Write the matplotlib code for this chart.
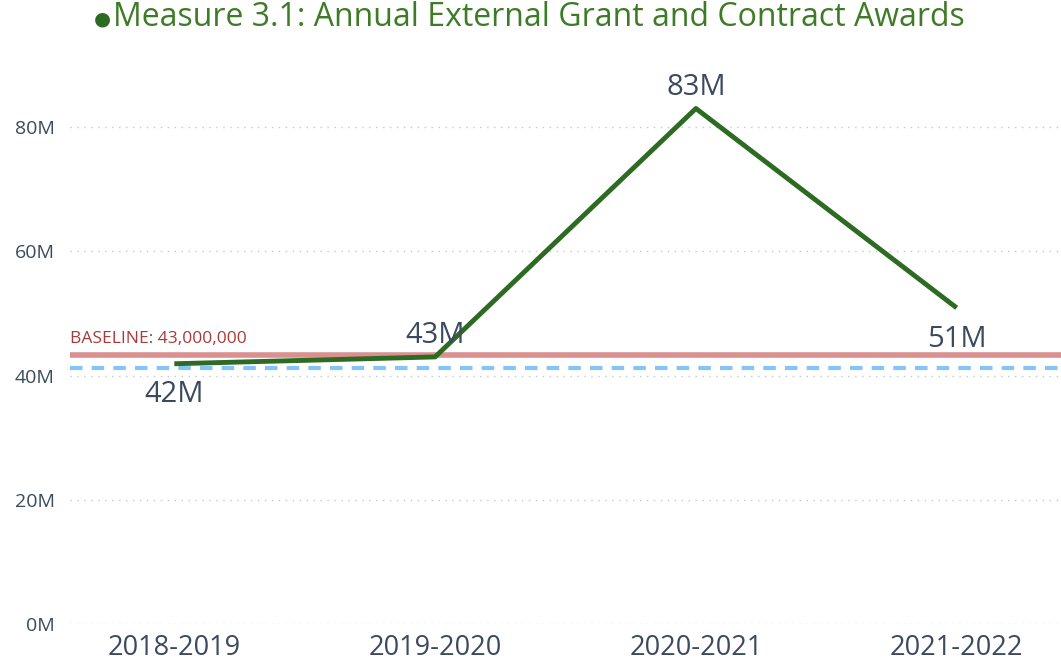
import matplotlib
matplotlib.use("Agg")
import matplotlib.pyplot as plt
from matplotlib.ticker import FuncFormatter

categories = ["2018-2019", "2019-2020", "2020-2021", "2021-2022"]
values = [41.9, 43.0, 83.0, 50.9]          # millions
labels = ["42M", "43M", "83M", "51M"]
label_pos = ["below", "above", "above", "below"]
baseline = 43.3
baseline_label = "BASELINE: 43,000,000"
blue_ref = 41.2
yticks = [0, 20, 40, 60, 80]
title = "Measure 3.1: Annual External Grant and Contract Awards"

plt.rcParams['font.family'] = ['Open Sans', 'DejaVu Sans']

fig = plt.figure(figsize=(10.61, 6.65), dpi=100)
ax = fig.add_axes([70/1061, 41/665, 1 - 70/1061, (624-65)/665])

x = list(range(len(categories)))
ax.axhline(baseline, color="#D9908E", lw=4, zorder=2)
ax.axhline(blue_ref, color="#86C3F7", lw=3, ls=(0, (3, 2.2)), zorder=2)
ax.plot(x, values, color="#2D6A22", lw=3.5, zorder=3, solid_capstyle="butt")

for xi, v, lab, pos in zip(x, values, labels, label_pos):
    if pos == "above":
        ax.annotate(lab, (xi, v), xytext=(0, 5), textcoords="offset points",
                    ha="center", va="bottom", fontsize=21, color="#3B4A5E")
    else:
        ax.annotate(lab, (xi, v), xytext=(0, -12), textcoords="offset points",
                    ha="center", va="top", fontsize=21, color="#3B4A5E")

ax.text(0.0, baseline + 1.3, baseline_label, transform=ax.get_yaxis_transform(),
        ha="left", va="bottom", fontsize=12.5, color="#A93A3A")

ax.set_xlim(-0.4, 3.4)
ax.set_ylim(0, 90)
ax.set_yticks(yticks)
ax.yaxis.set_major_formatter(FuncFormatter(lambda v, p: f"{int(v)}M"))
ax.set_xticks(x)
ax.set_xticklabels(categories)
ax.tick_params(axis="y", length=0, pad=11, labelsize=14, labelcolor="#3B4A5E")
ax.tick_params(axis="x", length=0, pad=7, labelsize=19.5, labelcolor="#3B4A5E")
ax.grid(axis="y", color="#C8C8C8", ls=(0, (1, 4)), lw=1)
ax.set_axisbelow(True)
for s in ax.spines.values():
    s.set_visible(False)

fig.text(102/1061, 1 - 19/665, "●", ha="center", va="center", fontsize=14, color="#2D6A22")
fig.text(113/1061, 1 - 18/665, title, ha="left", va="center", fontsize=23, color="#3E7B27")

fig.savefig("out.png", dpi=100)
